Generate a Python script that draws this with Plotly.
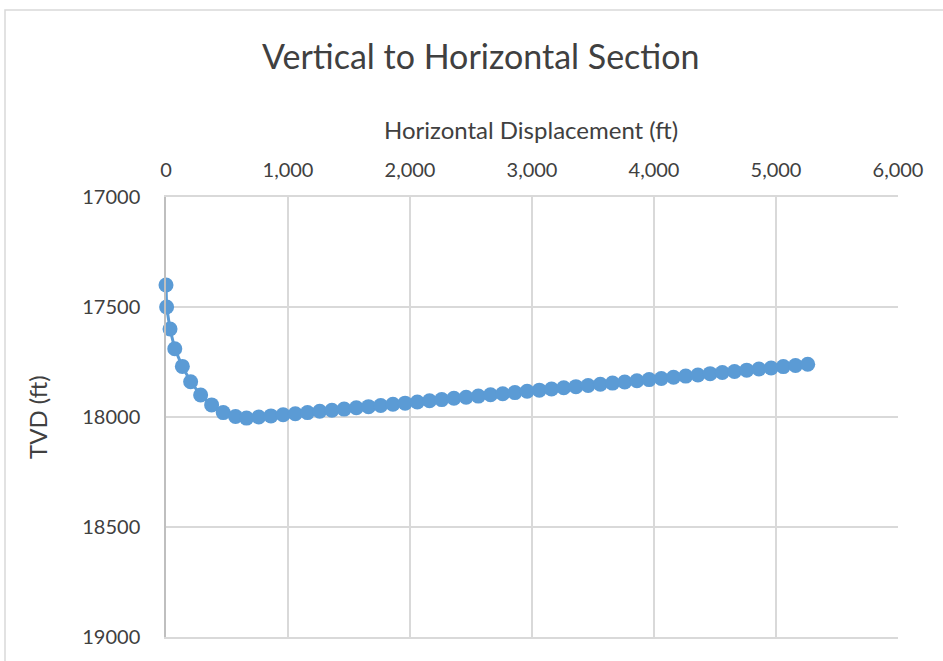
import plotly.graph_objects as go

# Well path: horizontal displacement (ft) vs true vertical depth (ft)
displacement_ft = [
    0, 5, 33, 72, 134, 202, 284, 374, 469, 570,
    660, 760, 860, 960, 1060, 1160, 1260, 1360, 1460, 1560,
    1660, 1760, 1860, 1960, 2060, 2160, 2260, 2360, 2460, 2560,
    2660, 2760, 2860, 2960, 3060, 3160, 3260, 3360, 3460, 3560,
    3660, 3760, 3860, 3960, 4060, 4160, 4260, 4360, 4460, 4560,
    4660, 4760, 4860, 4960, 5060, 5160, 5260,
]
tvd_ft = [
    17400, 17500, 17600, 17690, 17770, 17840, 17900, 17945, 17980, 17998,
    18005, 18000, 17995, 17990, 17985, 17980, 17974, 17969, 17964, 17958,
    17953, 17948, 17942, 17937, 17932, 17926, 17921, 17915, 17910, 17905,
    17899, 17894, 17889, 17883, 17878, 17873, 17867, 17862, 17857, 17851,
    17846, 17841, 17835, 17830, 17825, 17819, 17814, 17809, 17803, 17798,
    17793, 17787, 17782, 17777, 17771, 17766, 17760,
]

x_ticks = [0, 1000, 2000, 3000, 4000, 5000, 6000]
x_tick_labels = ["0", "1,000", "2,000", "3,000", "4,000", "5,000", "6,000"]
y_ticks = [17000, 17500, 18000, 18500, 19000]
y_tick_labels = ["17000", "17500", "18000", "18500", "19000"]

FONT = "Lato, Carlito, 'Open Sans', sans-serif"
TEXT = "#404040"
GRID = "#D9D9D9"

W, H = 943, 661
L, R, T, B = 166, 45, 197, 24
pw, ph = W - L - R, H - T - B


def px_x(p):
    return (p - L) / pw


def px_y(p):
    return 1 + (T - p) / ph


fig = go.Figure(
    go.Scatter(
        x=displacement_ft,
        y=tvd_ft,
        mode="lines+markers",
        line=dict(color="#5B9BD5", width=3),
        marker=dict(color="#5B9BD5", size=15),
        cliponaxis=False,
        showlegend=False,
        hoverinfo="x+y",
    )
)

fig.update_layout(
    width=W,
    height=H,
    margin=dict(l=L, r=R, t=T, b=B),
    paper_bgcolor="white",
    plot_bgcolor="white",
    font=dict(family=FONT, color=TEXT, size=20),
    xaxis=dict(
        side="top",
        range=[0, 6000],
        tickvals=x_ticks,
        ticktext=x_tick_labels,
        showgrid=True,
        gridcolor=GRID,
        gridwidth=1.5,
        zeroline=False,
        showline=True,
        linecolor=GRID,
        linewidth=1.5,
        mirror=True,
        ticks="outside",
        ticklen=10,
        tickcolor="rgba(0,0,0,0)",
        tickfont=dict(size=20, color=TEXT, family=FONT),
    ),
    yaxis=dict(
        range=[19000, 17000],
        tickvals=y_ticks,
        ticktext=y_tick_labels,
        showgrid=True,
        gridcolor=GRID,
        gridwidth=1.5,
        zeroline=False,
        showline=True,
        linecolor="#BFBFBF",
        linewidth=1.5,
        ticks="outside",
        ticklen=20,
        tickcolor="rgba(0,0,0,0)",
        tickfont=dict(size=20, color=TEXT, family=FONT),
    ),
    annotations=[
        dict(
            text="Vertical to Horizontal Section",
            xref="paper", yref="paper",
            x=px_x(481), y=px_y(55),
            xanchor="center", yanchor="middle",
            showarrow=False,
            font=dict(size=34, color=TEXT, family=FONT),
        ),
        dict(
            text="Horizontal Displacement (ft)",
            xref="paper", yref="paper",
            x=px_x(531), y=px_y(130),
            xanchor="center", yanchor="middle",
            showarrow=False,
            font=dict(size=24, color=TEXT, family=FONT),
        ),
        dict(
            text="TVD (ft)",
            xref="paper", yref="paper",
            x=px_x(37), y=px_y(417),
            xanchor="center", yanchor="middle",
            textangle=-90,
            showarrow=False,
            font=dict(size=24, color=TEXT, family=FONT),
        ),
    ],
    shapes=[
        # chart-area frame (extends past the right and bottom edges)
        dict(
            type="rect",
            xref="paper", yref="paper",
            x0=px_x(5), x1=px_x(960),
            y0=px_y(680), y1=px_y(10),
            line=dict(color="#D9D9D9", width=1.5),
            fillcolor="rgba(0,0,0,0)",
            layer="below",
        )
    ],
)

fig.write_html("out.html")
